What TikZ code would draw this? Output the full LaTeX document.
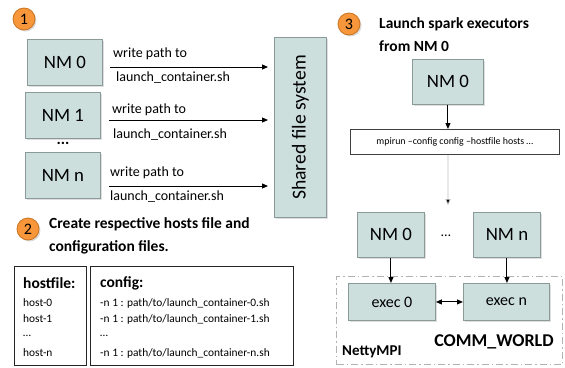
\documentclass[tikz,border=0pt]{standalone}
\usepackage{fontspec}
\setmainfont{Carlito}
\usetikzlibrary{arrows.meta,shadows}
\definecolor{boxfill}{HTML}{CCDFDC}
\definecolor{boxline}{HTML}{8A9A98}
\definecolor{orng}{HTML}{F7963A}
\definecolor{orngd}{HTML}{C9731F}
\tikzset{
  nm/.style={draw=boxline,line width=0.9pt,fill=boxfill,
    drop shadow={shadow xshift=1.5pt,shadow yshift=-1.5pt,opacity=0.25},
    inner sep=0pt,anchor=north west},
  nmfont/.style={font=\fontsize{18.8}{18.8}\selectfont},
  badge/.style={circle,draw=orngd,line width=0.8pt,fill=orng,minimum size=22pt,inner sep=0pt,
    drop shadow={shadow xshift=1.5pt,shadow yshift=-1.5pt,opacity=0.3},font=\fontsize{16}{16}\selectfont},
  arr/.style={-{Triangle[length=6pt,width=5pt]},line width=1pt},
  lbl/.style={font=\fontsize{14}{14}\selectfont,anchor=west,inner sep=0pt},
  ttl/.style={font=\bfseries\fontsize{15.5}{15.5}\selectfont,anchor=west,inner sep=0pt},
  hdr/.style={font=\bfseries\fontsize{15.5}{15.5}\selectfont,anchor=west,inner sep=0pt},
  small/.style={font=\fontsize{11.4}{11.4}\selectfont,anchor=west,inner sep=0pt},
  panel/.style={draw=black!85,line width=0.8pt,anchor=north west,inner sep=0pt},
}
\begin{document}
\begin{tikzpicture}[x=1pt,y=-1pt]
\useasboundingbox (0,0) rectangle (565,367);
% step 1
\node[badge] (b1) at (24,19) {1};
\node[nm,nmfont,minimum width=75pt,minimum height=46pt] (nm0) at (27,39) {NM 0};
\node[nm,nmfont,minimum width=75pt,minimum height=46pt] (nm1) at (25,92) {NM 1};
\node[nm,nmfont,minimum width=75pt,minimum height=46pt] (nmn) at (25,152) {NM n};
\node[font=\bfseries\fontsize{16}{16}\selectfont,inner sep=0pt] (dots1) at (63,143) {...};
\node[nm,minimum width=52pt,minimum height=180pt] (sfs) at (274,37) {};
\node[rotate=90,font=\fontsize{19.7}{19.7}\selectfont] (sfst) at (sfs.center) {Shared file system};
\coordinate (a0) at (110,67); \coordinate (e0) at (268,67);
\coordinate (a1) at (109,120); \coordinate (e1) at (268,120);
\coordinate (a2) at (109,186); \coordinate (e2) at (268,186);
\draw[arr] (a0) -- (e0);
\draw[arr] (a1) -- (e1);
\draw[arr] (a2) -- (e2);
\node[lbl] (w0) at (113,54) {write path to};
\node[lbl] (l0) at (116,78) {launch\_container.sh};
\node[lbl] (w1) at (112,110) {write path to};
\node[lbl] (l1) at (113,135) {launch\_container.sh};
\node[lbl] (w2) at (110,173) {write path to};
\node[lbl] (l2) at (110,197) {launch\_container.sh};
% step 2
\node[badge] (b2) at (28,229) {2};
\node[ttl] (t2a) at (49,224) {Create respective hosts file and};
\node[ttl] (t2b) at (49,247) {configuration files.};
\node[panel,minimum width=72pt,minimum height=99pt] (hf) at (14,266) {};
\node[panel,minimum width=203pt,minimum height=99pt] (cf) at (90,266) {};
\node[hdr] (hft) at (23,283) {hostfile:};
\node[small] (h0) at (23,303) {host-0};
\node[small] (h1) at (23,319) {host-1};
\node[small] (h2) at (23,336) {…};
\node[small] (h3) at (23,353) {host-n};
\node[hdr] (cft) at (100,283) {config:};
\node[small] (c0) at (100,303) {-n 1 : path/to/launch\_container-0.sh};
\node[small] (c1) at (100,319) {-n 1 : path/to/launch\_container-1.sh};
\node[small] (c2) at (100,336) {…};
\node[small] (c3) at (100,353) {-n 1 : path/to/launch\_container-n.sh};
% step 3
\node[badge] (b3) at (349,24) {3};
\node[ttl] (t3a) at (379,24) {Launch spark executors};
\node[ttl] (t3b) at (379,46) {from NM 0};
\node[nm,nmfont,minimum width=71pt,minimum height=45pt] (top) at (412,59) {NM 0};
\node[draw=black!75,line width=0.8pt,fill=white,minimum width=209pt,minimum height=25pt,inner sep=0pt,anchor=north west,font=\fontsize{9.9}{9.9}\selectfont] (mpi) at (350,129) {mpirun –config config –hostfile hosts …};
\draw[arr] (top.south) -- (top.south|-mpi.north);
\node[draw=gray!60,dash pattern=on 7pt off 3pt on 1.5pt off 3pt,line width=1pt,minimum width=226pt,minimum height=88pt,inner sep=0pt,anchor=north west] (cw) at (336,276) {};
\node[nm,nmfont,minimum width=67pt,minimum height=45pt] (n0) at (357,212) {NM 0};
\node[nm,nmfont,minimum width=67pt,minimum height=45pt] (nn) at (473,212) {NM n};
\node[font=\fontsize{14}{14}\selectfont,inner sep=0pt] (dots3) at (446,236) {…};
\coordinate (gend) at (448,205);
\draw[-{Triangle[length=6pt,width=5pt,fill=black]},draw=gray!50,line width=0.6pt] (mpi.south-|top.south) -- (gend);
\node[nm,minimum width=87pt,minimum height=37pt,font=\fontsize{16}{16}\selectfont] (x0) at (348,283) {exec 0};
\node[nm,minimum width=86pt,minimum height=37pt,font=\fontsize{16}{16}\selectfont] (xn) at (463,283) {exec n};
\draw[arr] (n0.south) -- (n0.south|-x0.north);
\draw[arr] (nn.south) -- (nn.south|-xn.north);
\draw[{Triangle[length=6pt,width=5pt]}-{Triangle[length=6pt,width=5pt]},line width=1pt] (x0.east) -- (xn.west);
\node[ttl,anchor=center,font=\bfseries\fontsize{18}{18}\selectfont] (cwt) at (494,342) {COMM\_WORLD};
\node[ttl,font=\bfseries\fontsize{15}{15}\selectfont] (nmpi) at (342,352) {NettyMPI};
\end{tikzpicture}
\end{document}
